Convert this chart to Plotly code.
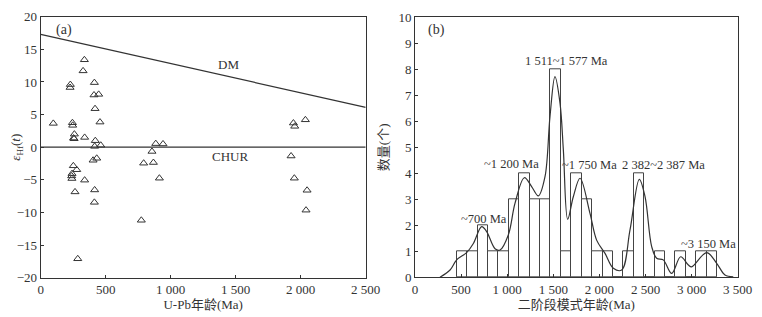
import plotly.graph_objects as go

# ---- Panel (a) data: U-Pb age (Ma) vs epsilon Hf(t)
age_ma = [97, 228, 226, 244, 246, 259, 253, 257, 336, 326, 338, 413, 410, 446, 418, 456,
          420, 415, 462, 431, 403, 251, 277, 241, 238, 240, 338, 264, 415, 413, 285,
          774, 792, 867, 856, 885, 941, 913, 1944, 1954, 2036, 1926, 1951, 2049, 2041]
eps_hf = [3.65, 9.6, 9.15, 3.75, 3.35, 2.0, 1.4, 1.3, 13.4, 11.7, 1.5, 9.9, 8.0, 8.1, 5.9, 3.85,
          1.0, 0.13, 0.3, -1.7, -2.0, -2.85, -3.45, -4.05, -4.4, -4.8, -5.05, -6.85, -6.55, -8.45, -17.1,
          -11.2, -2.45, -2.35, -0.65, 0.55, 0.5, -4.75, 3.7, 3.2, 4.2, -1.35, -4.75, -6.6, -9.65]
dm_age = [0, 2500]
dm_eps = [17.3, 6.1]
chur_age = [0, 2500]
chur_eps = [0, 0]

# ---- Panel (b) data: two-stage model age histogram
bin_start = 452
bin_width = 113
counts = [1, 1, 2, 1, 1, 3, 4, 3, 3, 8, 1, 4, 3, 1, 1, 0, 1, 4, 0, 1, 0, 1, 0, 1, 1]
kde_x = [271, 380, 452, 560, 633, 723, 777, 868, 922, 1012, 1085, 1186, 1265, 1338, 1410,
         1464, 1518, 1573, 1609, 1656, 1717, 1790, 1898, 1970, 2061, 2151, 2242, 2332, 2433,
         2495, 2567, 2621, 2693, 2784, 2881, 2965, 3000, 3164, 3272, 3362, 3452]
kde_y = [0.0, 0.28, 0.67, 0.95, 1.3, 1.95, 1.76, 1.1, 1.05, 1.63, 2.85, 3.83, 3.49, 3.13, 3.87,
         6.18, 7.72, 6.69, 4.9, 2.23, 3.1, 3.81, 2.46, 1.43, 0.92, 0.35, 0.28, 1.82, 3.77,
         3.1, 1.18, 0.73, 0.67, 0.15, 0.79, 0.47, 0.4, 0.95, 0.54, 0.09, 0.02]
peak_labels = ["~700 Ma", "~1 200 Ma", "1 511~1 577 Ma", "~1 750 Ma", "2 382~2 387 Ma", "~3 150 Ma"]
peak_label_x = [746, 1049, 1645, 1895, 2690, 3187]
peak_label_y = [2.24, 4.36, 8.32, 4.32, 4.32, 1.28]

left_ticks = [0, 500, 1000, 1500, 2000, 2500]
left_ticktext = ["0", "500", "1 000", "1 500", "2 000", "2 500"]
right_ticks = [0, 500, 1000, 1500, 2000, 2500, 3000, 3500]
right_ticktext = ["0", "500", "1 000", "1 500", "2 000", "2 500", "3 000", "3 500"]

INK = "#333333"
FONT = "Liberation Serif, Noto Sans CJK SC, serif"
W, H, OFF = 762, 317, 8  # page body has an 8px margin


def fx(px):
    return (px - OFF) / W


def fy(py):
    return 1 - (py - OFF) / H


fig = go.Figure()

fig.add_trace(go.Scatter(x=dm_age, y=dm_eps, mode="lines", line=dict(color=INK, width=1.2),
                         xaxis="x", yaxis="y", showlegend=False, hoverinfo="skip"))
fig.add_trace(go.Scatter(x=chur_age, y=chur_eps, mode="lines", line=dict(color=INK, width=1.2),
                         xaxis="x", yaxis="y", showlegend=False, hoverinfo="skip"))
fig.add_trace(go.Scatter(x=age_ma, y=eps_hf, mode="markers",
                         marker=dict(symbol="triangle-up-open", size=7, color=INK, line=dict(width=1, color=INK)),
                         xaxis="x", yaxis="y", showlegend=False))

centers = [bin_start + bin_width * (i + 0.5) for i in range(len(counts))]
fig.add_trace(go.Bar(x=centers, y=counts, width=[bin_width] * len(counts),
                     marker=dict(color="white", line=dict(color="#444444", width=1)),
                     xaxis="x2", yaxis="y2", showlegend=False))
fig.add_trace(go.Scatter(x=kde_x, y=kde_y, mode="lines", line=dict(color=INK, width=1.2, shape="spline", smoothing=1.0),
                         xaxis="x2", yaxis="y2", showlegend=False, hoverinfo="skip"))

annotations = [
    dict(x=1446, y=12.7, xref="x", yref="y", text="DM", showarrow=False, font=dict(size=13)),
    dict(x=1456, y=-1.45, xref="x", yref="y", text="CHUR", showarrow=False, font=dict(size=13)),
    dict(x=100, y=18.0, xref="x", yref="y", text="(a)", showarrow=False, xanchor="left", font=dict(size=14)),
    dict(x=116, y=9.5, xref="x2", yref="y2", text="(b)", showarrow=False, xanchor="left", font=dict(size=14)),
]
for t, lx, ly in zip(peak_labels, peak_label_x, peak_label_y):
    annotations.append(dict(x=lx, y=ly, xref="x2", yref="y2", text=t, showarrow=False, font=dict(size=12.5)))

axis_common = dict(showline=True, linecolor=INK, linewidth=1, mirror=True, ticks="inside", ticklen=3,
                   tickcolor=INK, showgrid=False, zeroline=False, automargin=False,
                   tickfont=dict(size=13, color=INK, family=FONT))

fig.update_layout(
    width=W, height=H,
    margin=dict(l=0, r=0, t=0, b=0),
    paper_bgcolor="white", plot_bgcolor="white",
    font=dict(family=FONT, color=INK, size=13),
    bargap=0,
    annotations=annotations,
    xaxis=dict(domain=[fx(40.7), fx(365.7)], range=[0, 2500], tickvals=left_ticks, ticktext=left_ticktext,
               title=dict(text="U-Pb年龄(Ma)", standoff=3, font=dict(size=13)), anchor="y", **axis_common),
    yaxis=dict(domain=[fy(277.7), fy(16.7)], range=[-20, 20], dtick=5, anchor="x",
               title=dict(text="<i>ε</i><sub>Hf</sub>(<i>t</i>)", standoff=4, font=dict(size=13)), **axis_common),
    xaxis2=dict(domain=[fx(415), fx(737.7)], range=[0, 3500], tickvals=right_ticks, ticktext=right_ticktext,
                title=dict(text="二阶段模式年龄(Ma)", standoff=3, font=dict(size=13)), anchor="y2", **axis_common),
    yaxis2=dict(domain=[fy(277.3), fy(17.3)], range=[0, 10], dtick=1, anchor="x2",
                title=dict(text="数量(个)", standoff=6, font=dict(size=13)), **axis_common),
)

fig.write_html("out.html")
